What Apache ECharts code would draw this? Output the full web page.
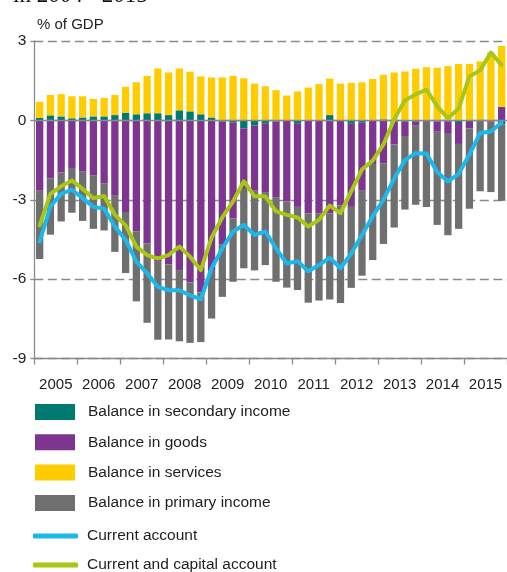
<!DOCTYPE html>
<html>
<head>
<meta charset="utf-8">
<script src="https://cdn.jsdelivr.net/npm/echarts@6/dist/echarts.min.js"></script>
<style>
  html, body { margin: 0; padding: 0; background: #fff; }
  #chart { width: 507px; height: 572px; }
</style>
</head>
<body>
<div id="chart"></div>
<script>
// Quarterly balance-of-payments components, % of GDP
const years = ['2005', '2006', '2007', '2008', '2009', '2010', '2011', '2012', '2013', '2014', '2015'];
const quarterNames = ['Q1', 'Q2', 'Q3', 'Q4'];

const secondaryIncome = [
  0.09, 0.19, 0.15, 0.08, 0.11, 0.15, 0.15, 0.20, 0.29, 0.23, 0.27,
  0.27, 0.20, 0.38, 0.34, 0.23, 0.11, -0.05, -0.09, -0.30, -0.20, -0.13,
  -0.05, -0.02, -0.13, 0.02, -0.02, 0.20, 0.00, -0.13, -0.09, 0.01, 0.04,
  -0.05, -0.05, -0.05, -0.03, -0.05, -0.03, -0.10, -0.06, 0.03, -0.02, -0.15
];
const goods = [
  -2.66, -2.20, -1.97, -1.80, -1.94, -2.09, -2.39, -2.85, -3.46, -4.19, -4.65,
  -5.34, -5.44, -5.66, -6.13, -6.51, -5.66, -4.63, -3.61, -2.29, -2.46, -2.58,
  -2.85, -3.04, -3.14, -3.52, -3.50, -3.52, -3.22, -3.14, -2.57, -1.65, -1.62,
  -0.86, -0.54, -0.13, -0.03, -0.38, -0.48, -0.79, -0.24, -0.02, -0.03, 0.51
];
const services = [
  0.61, 0.77, 0.84, 0.83, 0.80, 0.66, 0.70, 0.76, 0.98, 1.21, 1.41,
  1.69, 1.61, 1.58, 1.50, 1.43, 1.51, 1.62, 1.68, 1.59, 1.39, 1.29,
  1.14, 0.94, 1.09, 1.22, 1.37, 1.38, 1.39, 1.42, 1.44, 1.56, 1.68,
  1.81, 1.85, 1.95, 2.01, 1.99, 2.05, 2.13, 2.13, 2.20, 2.57, 2.30
];
const primaryIncome = [
  -2.58, -2.12, -1.85, -1.69, -1.86, -2.01, -1.77, -2.12, -2.31, -2.65, -3.00,
  -2.95, -2.84, -2.69, -2.28, -1.87, -1.83, -1.99, -2.40, -3.00, -3.01, -2.76,
  -3.20, -3.26, -3.14, -3.37, -3.29, -3.25, -3.68, -3.06, -3.21, -3.63, -3.05,
  -3.14, -2.78, -3.01, -3.21, -3.52, -3.83, -3.21, -3.04, -2.66, -2.66, -2.89
];
const currentAccount = [
  -4.58, -3.25, -2.78, -2.62, -2.94, -3.27, -3.34, -4.01, -4.52, -5.34, -5.78,
  -6.29, -6.42, -6.42, -6.61, -6.76, -5.59, -4.84, -4.20, -3.95, -4.33, -4.20,
  -4.84, -5.41, -5.32, -5.70, -5.47, -5.19, -5.59, -5.03, -4.33, -3.62, -3.00,
  -2.20, -1.50, -1.24, -1.25, -1.95, -2.31, -2.02, -1.29, -0.48, -0.42, -0.08
];
const currentCapitalAccount = [
  -3.97, -2.78, -2.49, -2.27, -2.59, -2.94, -2.86, -3.57, -3.97, -4.77, -5.09,
  -5.22, -5.09, -4.77, -5.15, -5.66, -4.43, -3.67, -3.06, -2.30, -2.87, -2.87,
  -3.44, -3.57, -3.67, -4.01, -3.76, -3.22, -3.51, -2.68, -1.86, -1.52, -0.91,
  0.04, 0.76, 0.98, 1.16, 0.54, 0.08, 0.45, 1.66, 1.89, 2.56, 2.10
];

const quarters = [];
years.forEach(y => quarterNames.forEach(q => quarters.push(y + ' ' + q)));

const FONT = "'Liberation Sans', Arial, sans-serif";
const AXIS_GREY = '#8a8a8a';
const TEXT = '#1e1e1e';

const chart = echarts.init(document.getElementById('chart'), null, { renderer: 'canvas' });

const barSeries = (name, data, color) => ({
  name, type: 'bar', stack: 'balance', data,
  xAxisIndex: 0, yAxisIndex: 0,
  barWidth: 7.3,
  itemStyle: { color },
  emphasis: { disabled: true }
});

const lineSeries = (name, data, color) => ({
  name, type: 'line', data,
  xAxisIndex: 0, yAxisIndex: 0,
  symbol: 'none',
  lineStyle: { color, width: 4, join: 'round', cap: 'round' },
  itemStyle: { color },
  z: 5,
  emphasis: { disabled: true }
});

chart.setOption({
  animation: false,
  textStyle: { fontFamily: FONT },
  graphic: [
    {
      type: 'text', left: 13, top: -16,
      style: { text: 'in 2004 - 2015', font: "23px 'Liberation Serif', 'Times New Roman', serif", fill: '#111' }
    },
    {
      type: 'text', left: 37, top: 17,
      style: { text: '% of GDP', font: "15px " + FONT, fill: TEXT }
    }
  ],
  grid: { left: 34.3, right: -4.7, top: 41, bottom: 213.5, containLabel: false },
  xAxis: [
    {
      type: 'category', data: quarters, position: 'top', show: false,
      boundaryGap: true
    },
    {
      type: 'category', data: years, position: 'bottom',
      boundaryGap: true,
      axisLine: { lineStyle: { color: AXIS_GREY, width: 1.3 } },
      axisTick: { show: true, length: 6, interval: 0, lineStyle: { color: AXIS_GREY, width: 1.3 } },
      axisLabel: { margin: 19, fontSize: 15, color: TEXT, fontFamily: FONT, interval: 0 },
      splitLine: { show: false }
    }
  ],
  yAxis: {
    type: 'value', min: -9, max: 3, interval: 3,
    axisLine: { show: true, lineStyle: { color: AXIS_GREY, width: 1.3 } },
    axisTick: { show: true, length: 4, lineStyle: { color: AXIS_GREY, width: 1.3 } },
    axisLabel: { margin: 8, fontSize: 15.5, color: TEXT, fontFamily: FONT },
    splitLine: { show: true, lineStyle: { color: AXIS_GREY, width: 1.3, type: [9, 4.5] } }
  },
  legend: [
    {
      data: ['Balance in secondary income', 'Balance in goods', 'Balance in services', 'Balance in primary income'],
      orient: 'vertical', left: 35, top: 404, padding: 0,
      itemWidth: 40, itemHeight: 16, itemGap: 14.3,
      icon: 'rect', selectedMode: false,
      textStyle: { fontSize: 15.5, color: TEXT, fontFamily: FONT, padding: [0, 0, 0, 8] }
    },
    {
      data: ['Current account', 'Current and capital account'],
      orient: 'vertical', left: 33, top: 528, height: 120, padding: 0,
      itemWidth: 45, itemHeight: 5, itemGap: 13,
      icon: 'roundRect', selectedMode: false,
      textStyle: { fontSize: 15.5, color: TEXT, fontFamily: FONT, padding: [0, 0, 0, 4] }
    }
  ],
  series: [
    Object.assign(barSeries('Balance in secondary income', secondaryIncome, '#007A70'), {
      markLine: {
        silent: true, symbol: 'none', label: { show: false },
        lineStyle: { color: AXIS_GREY, width: 1.3, type: 'solid' },
        data: [{ yAxis: 0 }]
      }
    }),
    barSeries('Balance in goods', goods, '#7D3590'),
    barSeries('Balance in services', services, '#FFCC00'),
    barSeries('Balance in primary income', primaryIncome, '#6F6F6F'),
    lineSeries('Current account', currentAccount, '#1BB8EC'),
    lineSeries('Current and capital account', currentCapitalAccount, '#A8C614')
  ]
});
</script>
</body>
</html>
